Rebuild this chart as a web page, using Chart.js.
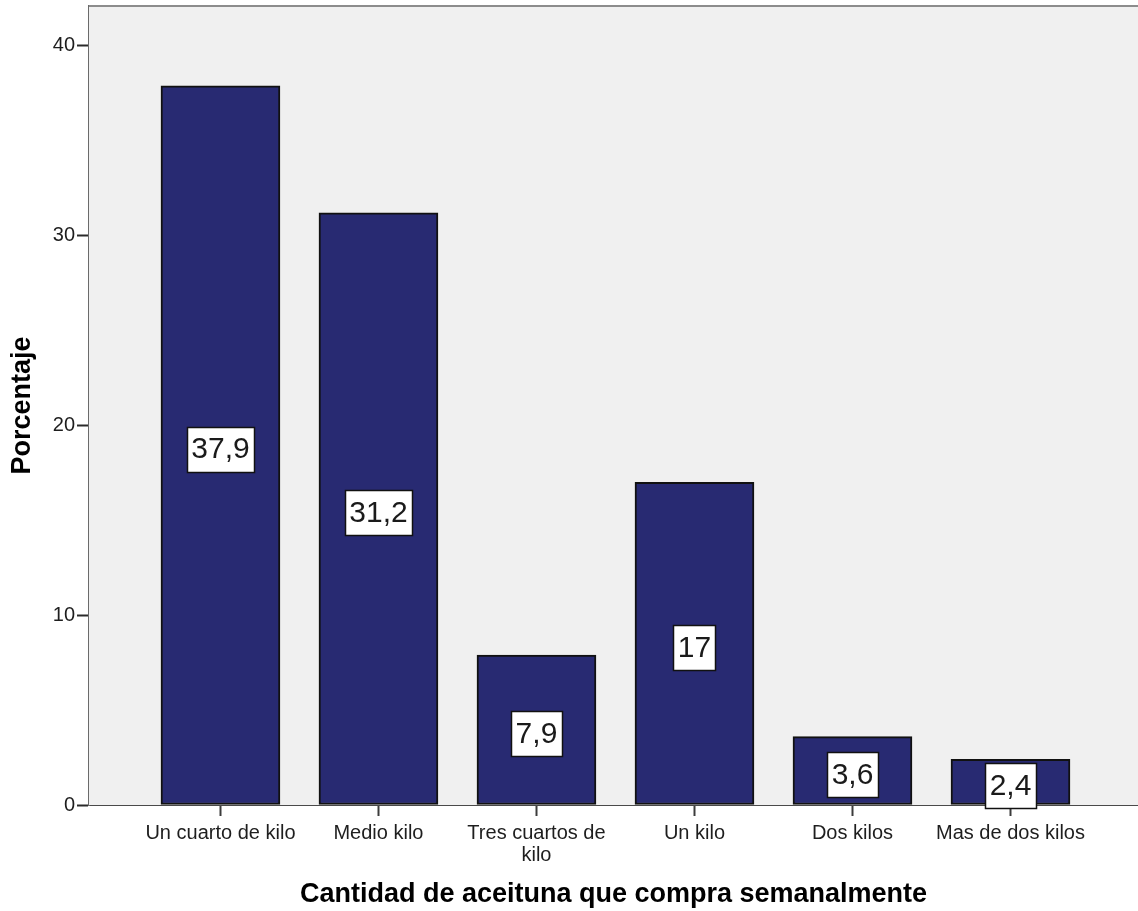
<!DOCTYPE html>
<html>
<head>
<meta charset="utf-8">
<script src="https://cdn.jsdelivr.net/npm/chart.js@4/dist/chart.umd.min.js"></script>
<style>
  html, body { margin: 0; padding: 0; background: #fff; }
  #chart { display: block; }
</style>
</head>
<body>
<canvas id="chart" width="1138" height="911"></canvas>
<script>
const categories = [
  ["Un cuarto de kilo"],
  ["Medio kilo"],
  ["Tres cuartos de", "kilo"],
  ["Un kilo"],
  ["Dos kilos"],
  ["Mas de dos kilos"],
];
const percentages = [37.9, 31.2, 7.9, 17, 3.6, 2.4];
const valueLabels = ["37,9", "31,2", "7,9", "17", "3,6", "2,4"];
const yTicks = [0, 10, 20, 30, 40];

const FONT = "'Liberation Sans', Arial, sans-serif";

// grey panel behind the bars, frame line on top
const panel = {
  id: "panel",
  beforeDatasetsDraw(chart) {
    const { ctx, chartArea: a } = chart;
    ctx.save();
    ctx.fillStyle = "#f0f0f0";
    ctx.fillRect(a.left, a.top, a.right - a.left, a.bottom - a.top);
    ctx.restore();
  },
  afterDraw(chart) {
    const { ctx, chartArea: a } = chart;
    ctx.save();
    ctx.strokeStyle = "#8c8c8c";
    ctx.lineWidth = 2;
    ctx.beginPath();
    ctx.moveTo(a.left, a.top);
    ctx.lineTo(a.right, a.top);
    ctx.stroke();
    ctx.restore();
  },
};

// white boxed value in the middle of every bar
const boxedValues = {
  id: "boxedValues",
  afterDatasetsDraw(chart) {
    const { ctx } = chart;
    const meta = chart.getDatasetMeta(0);
    ctx.save();
    ctx.font = "30px " + FONT;
    ctx.textAlign = "center";
    ctx.textBaseline = "middle";
    meta.data.forEach((bar, i) => {
      const text = valueLabels[i];
      const cx = bar.x;
      const cy = (bar.y + bar.base) / 2 + 4;
      const w = ctx.measureText(text).width + 9;
      const h = 45;
      const x0 = Math.round(cx - w / 2) + 0.5;
      const y0 = Math.round(cy - h / 2) + 0.5;
      ctx.fillStyle = "#ffffff";
      ctx.fillRect(x0, y0, Math.round(w), h);
      ctx.strokeStyle = "#111";
      ctx.lineWidth = 1.5;
      ctx.strokeRect(x0, y0, Math.round(w), h);
      ctx.fillStyle = "#1a1a1a";
      ctx.fillText(text, cx, cy + 1);
    });
    ctx.restore();
  },
};

new Chart(document.getElementById("chart"), {
  type: "bar",
  data: {
    datasets: [
      {
        data: percentages.map((v, i) => ({ x: i, y: v })),
        backgroundColor: "#282a72",
        borderColor: "#111111",
        borderWidth: 2,
        borderSkipped: false,
        barThickness: 119,
      },
    ],
  },
  options: {
    responsive: false,
    animation: false,
    layout: { padding: { top: 6, right: 0, left: 0, bottom: 0 } },
    plugins: {
      legend: { display: false },
      tooltip: { enabled: false },
    },
    scales: {
      x: {
        type: "linear",
        offset: false,
        min: -0.832,
        max: 5.807,
        afterBuildTicks(scale) {
          scale.ticks = categories.map((c, i) => ({ value: i }));
        },
        afterFit(scale) {
          scale.height = 106;
          scale.paddingLeft = 0;
          scale.paddingRight = 0;
        },
        ticks: {
          autoSkip: false,
          maxRotation: 0,
          padding: 6,
          color: "#1e1e1e",
          font: { family: FONT, size: 20, lineHeight: 1.1 },
          callback: (v) => categories[v] || "",
        },
        grid: {
          offset: false,
          drawOnChartArea: false,
          tickLength: 11,
          tickWidth: 2,
          tickColor: "#3c3c3c",
        },
        border: { color: "#4a4a4a", width: 2 },
        title: {
          display: true,
          text: "Cantidad de aceituna que compra semanalmente",
          color: "#000",
          font: { family: FONT, size: 27, weight: "bold", lineHeight: 1.2 },
          padding: { top: 0, bottom: 0 },
        },
      },
      y: {
        min: 0,
        max: 42.1,
        afterBuildTicks(scale) {
          scale.ticks = yTicks.map((v) => ({ value: v }));
        },
        afterFit(scale) {
          scale.width = 89;
          scale.paddingTop = 0;
          scale.paddingBottom = 0;
        },
        ticks: {
          padding: 2,
          color: "#1e1e1e",
          font: { family: FONT, size: 20 },
        },
        grid: {
          drawOnChartArea: false,
          tickLength: 12,
          tickWidth: 2,
          tickColor: "#2a2a2a",
        },
        border: { color: "#6a6a6a", width: 2 },
        title: {
          display: true,
          text: "Porcentaje",
          color: "#000",
          font: { family: FONT, size: 27, weight: "bold", lineHeight: 1.2 },
          padding: { top: 6, bottom: 0 },
        },
      },
    },
  },
  plugins: [panel, boxedValues],
});
</script>
</body>
</html>
